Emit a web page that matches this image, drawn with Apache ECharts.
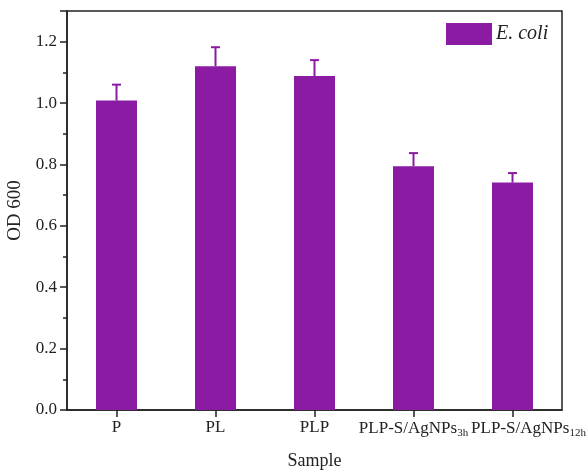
<!DOCTYPE html>
<html><head><meta charset="utf-8">
<script src="https://cdn.jsdelivr.net/npm/echarts@6/dist/echarts.min.js"></script>
<style>html,body{margin:0;padding:0;background:#fff}#c{width:586px;height:470px}</style>
</head><body><div id="c"></div>
<script>
var categories = ['P', 'PL', 'PLP', 'PLP-S/AgNPs_3h', 'PLP-S/AgNPs_12h'];
var values = [1.008, 1.120, 1.088, 0.794, 0.741];
var errors = [0.052, 0.062, 0.052, 0.043, 0.031];
var yTicks = [0.0, 0.2, 0.4, 0.6, 0.8, 1.0, 1.2];
var seriesName = 'E. coli';
var color = '#8a1ba2';
var font = 'Liberation Serif';

var chart = echarts.init(document.getElementById('c'));
chart.setOption({
  animation: false,
  grid: {left: 67, right: 24, top: 11, bottom: 60, outerBoundsMode: 'none', containLabel: false,
         show: true, borderColor: '#222', borderWidth: 1.5, backgroundColor: 'transparent'},
  legend: {
    left: 446, top: 23, itemWidth: 46, itemHeight: 22, icon: 'rect', itemGap: 4, padding: 0,
    data: [seriesName],
    textStyle: {fontFamily: font, fontStyle: 'italic', fontSize: 20, color: '#222', padding: [0, 0, 0, -1]}
  },
  xAxis: {
    type: 'category', data: categories,
    name: 'Sample', nameLocation: 'middle', nameGap: 42,
    nameTextStyle: {fontFamily: font, fontSize: 18, color: '#222'},
    axisLine: {lineStyle: {color: '#222', width: 1.5}},
    axisTick: {show: true, alignWithLabel: true, interval: 0, length: 7, lineStyle: {color: '#222', width: 1.5}},
    axisLabel: {
      interval: 0, margin: 9, color: '#222', fontFamily: font, fontSize: 17, hideOverlap: false,
      formatter: function (v, idx) {
        var p = v.split('_');
        var s = p.length > 1 ? p[0] + '{sub|' + p[1] + '}' : v;
        return idx === categories.length - 1 ? '{pad|}' + s : s;
      },
      rich: {
        sub: {fontFamily: font, fontSize: 11, verticalAlign: 'bottom', padding: [9, 0, 0, 0], color: '#222'},
        pad: {width: 32}
      }
    }
  },
  yAxis: {
    type: 'value', min: 0, max: 1.3, interval: 0.2,
    name: 'OD 600', nameLocation: 'middle', nameGap: 36,
    nameTextStyle: {fontFamily: font, fontSize: 19, color: '#222'},
    axisLine: {show: true, lineStyle: {color: '#222', width: 1.5}},
    axisTick: {show: true, length: 7, lineStyle: {color: '#222', width: 1.5}},
    minorTick: {show: true, splitNumber: 2, length: 4, lineStyle: {color: '#222', width: 1.5}},
    splitLine: {show: false},
    axisLabel: {
      margin: 10, color: '#222', fontFamily: font, fontSize: 17,
      formatter: function (v) {
        var r = Math.round(v * 10) / 10;
        return yTicks.indexOf(r) >= 0 && Math.abs(v - r) < 1e-6 ? r.toFixed(1) : '';
      }
    }
  },
  series: [
    {
      name: seriesName, type: 'bar', data: values, barWidth: 41,
      itemStyle: {color: color}
    },
    {
      name: 'err', type: 'custom',
      data: values.map(function (v, i) { return [i, v, v + errors[i]]; }),
      encode: {x: 0, y: [1, 2]},
      z: 3,
      renderItem: function (params, api) {
        var x = api.value(0);
        var p0 = api.coord([x, api.value(1)]);
        var p1 = api.coord([x, api.value(2)]);
        var half = 4.5;
        var st = {stroke: color, lineWidth: 2};
        return {type: 'group', children: [
          {type: 'line', shape: {x1: p0[0], y1: p0[1], x2: p1[0], y2: p1[1]}, style: st},
          {type: 'line', shape: {x1: p1[0] - half, y1: p1[1], x2: p1[0] + half, y2: p1[1]}, style: st}
        ]};
      }
    }
  ]
});
</script></body></html>
